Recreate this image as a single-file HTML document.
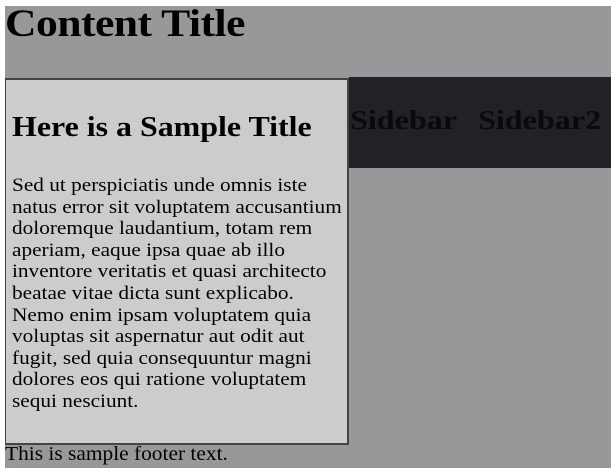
<!DOCTYPE html>
<html><head><style>
body{margin:0;width:611px;height:473px;background:#fff;position:relative;overflow:hidden;font-family:"Liberation Serif",serif;color:#000}
.bg{position:absolute;left:5px;top:6px;width:606px;height:462px;background:#9a979b}
.s{transform-origin:0 0;white-space:nowrap}
.t{position:absolute;left:5px;top:2px;font-size:39px;font-weight:bold;line-height:44px;letter-spacing:-0.5px;transform:scaleX(1.12)}
.dark{position:absolute;left:349px;top:77px;width:262px;height:91px;background:#232125}
.side{position:absolute;top:104px;font-size:27px;font-weight:bold;color:#0a090b;line-height:32px;transform:scaleX(1.19)}
.box{position:absolute;left:5px;top:78px;width:341px;height:363px;background:#cccccc;border:2px solid #444;border-left-width:1px;box-sizing:content-box}
.h2{position:absolute;left:6px;top:32px;font-size:28px;font-weight:bold;line-height:32px;transform:scaleX(1.14)}
.p{position:absolute;left:6px;top:95px;font-size:19px;line-height:21.6px;transform:scaleX(1.12)}
.f{position:absolute;left:5px;top:442px;font-size:20px;line-height:24px;transform:scaleX(1.07)}
</style></head><body>
<div class="bg"></div>
<div class="t s">Content Title</div>
<div class="dark"></div>
<div class="side s" style="left:350px">Sidebar</div>
<div class="side s" style="left:478px">Sidebar2</div>
<div class="box">
<div class="h2 s">Here is a Sample Title</div>
<div class="p s">Sed ut perspiciatis unde omnis iste<br>natus error sit voluptatem accusantium<br>doloremque laudantium, totam rem<br>aperiam, eaque ipsa quae ab illo<br>inventore veritatis et quasi architecto<br>beatae vitae dicta sunt explicabo.<br>Nemo enim ipsam voluptatem quia<br>voluptas sit aspernatur aut odit aut<br>fugit, sed quia consequuntur magni<br>dolores eos qui ratione voluptatem<br>sequi nesciunt.</div>
</div>
<div class="f s">This is sample footer text.</div>
</body></html>
